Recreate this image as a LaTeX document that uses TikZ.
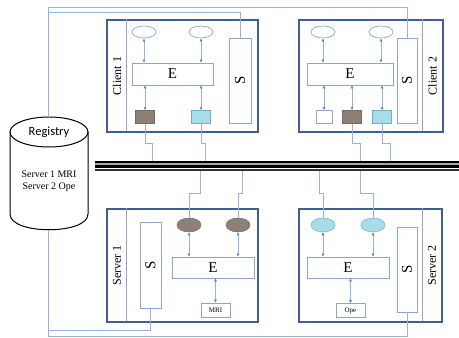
\documentclass[tikz,border=0pt]{standalone}
\usepackage{fontspec}
\setmainfont{Liberation Serif}
\newfontfamily\regfont{Carlito}
\usetikzlibrary{shapes.geometric, arrows.meta}

\definecolor{frameblue}{RGB}{62,95,143}
\definecolor{partblue}{RGB}{141,166,202}
\definecolor{wireblue}{RGB}{150,180,218}
\definecolor{tipblue}{RGB}{79,129,189}
\definecolor{mudfill}{RGB}{142,128,116}
\definecolor{mudline}{RGB}{110,110,110}
\definecolor{icefill}{RGB}{168,220,232}
\definecolor{iceline}{RGB}{110,176,198}

\begin{document}
\begin{tikzpicture}[x=1pt, y=-1pt,
    frame/.style={draw=frameblue, line width=1.3pt, inner sep=0pt},
    divider/.style={draw=partblue, line width=0.7pt},
    part/.style={draw=partblue, line width=0.7pt, fill=white, inner sep=0pt},
    bigtext/.style={font=\fontsize{15}{15}\selectfont},
    tag/.style={rotate=90, font=\fontsize{12}{12}\selectfont},
    port/.style={part, ellipse, minimum width=24pt, minimum height=12pt},
    mudport/.style={ellipse, draw=mudline, fill=mudfill, line width=0.5pt, minimum width=24pt, minimum height=14pt, inner sep=0pt},
    iceport/.style={ellipse, draw=iceline, fill=icefill, line width=0.5pt, minimum width=24pt, minimum height=14pt, inner sep=0pt},
    mudbox/.style={draw=mudline, fill=mudfill, line width=0.5pt, minimum width=19pt, minimum height=13pt, inner sep=0pt},
    icebox/.style={draw=iceline, fill=icefill, line width=0.5pt, minimum width=19pt, minimum height=13pt, inner sep=0pt},
    tinybox/.style={part, font=\fontsize{7}{7}\selectfont, minimum width=29pt, minimum height=14pt},
    wire/.style={draw=wireblue, line width=0.8pt},
    biarrow/.style={draw=wireblue, line width=0.6pt, {Latex[length=3pt,width=3pt,color=tipblue]}-{Latex[length=3pt,width=3pt,color=tipblue]}}]

    \useasboundingbox (0,0) rectangle (459,338);

    \node[frame, minimum width=151pt, minimum height=112pt] (c1box) at (182.5,76) {};
    \draw[divider] (c1box.north west) ++(20,0) -- ++(0,112);
    \node[tag] (c1tag) at (117,76) {Client 1};
    \node[port] (c1a) at (144,32) {};
    \node[port] (c1b) at (201,32) {};
    \node[part, bigtext, minimum width=81pt, minimum height=22pt] (c1e) at (172.5,74) {E};
    \node[part, bigtext, minimum width=22pt, minimum height=85pt] (c1s) at (240,80.5) {\rotatebox{90}{S}};
    \node[mudbox] (c1m) at (145,117) {};
    \node[icebox] (c1c) at (201,117) {};

    \draw[biarrow] (c1a.south) -- (c1a.south |- c1e.north);
    \draw[biarrow] (c1b.south) -- (c1b.south |- c1e.north);
    \draw[biarrow] (c1e.south -| c1m) -- (c1m.north);
    \draw[biarrow] (c1e.south -| c1c) -- (c1c.north);

    \node[frame, minimum width=144pt, minimum height=112pt] (c2box) at (371,76) {};
    \draw[divider] (c2box.north east) ++(-21,0) -- ++(0,112);
    \node[tag] (c2tag) at (432.5,76) {Client 2};
    \node[port] (c2a) at (323,32) {};
    \node[port] (c2b) at (381,32) {};
    \node[part, bigtext, minimum width=86pt, minimum height=22pt] (c2e) at (350,74) {E};
    \node[part, bigtext, minimum width=20pt, minimum height=85pt] (c2s) at (407,80.5) {\rotatebox{90}{S}};
    \node[part, minimum width=16pt, minimum height=13pt] (c2w) at (324,117) {};
    \node[mudbox] (c2m) at (352,117) {};
    \node[icebox] (c2c) at (382,117) {};

    \draw[biarrow] (c2a.south) -- (c2a.south |- c2e.north);
    \draw[biarrow] (c2b.south) -- (c2b.south |- c2e.north);
    \draw[biarrow] (c2e.south -| c2w) -- (c2w.north);
    \draw[biarrow] (c2e.south -| c2m) -- (c2m.north);
    \draw[biarrow] (c2e.south -| c2c) -- (c2c.north);

    \node[frame, minimum width=151pt, minimum height=113pt] (s1box) at (182.5,265.5) {};
    \draw[divider] (s1box.north west) ++(20,0) -- ++(0,113);
    \node[tag] (s1tag) at (117,265.5) {Server 1};
    \node[part, bigtext, minimum width=21pt, minimum height=86pt] (s1s) at (150.5,265) {\rotatebox{90}{S}};
    \node[mudport] (s1a) at (189,225) {};
    \node[mudport] (s1b) at (238,225) {};
    \node[part, bigtext, minimum width=82pt, minimum height=21pt] (s1e) at (213,267.5) {E};
    \node[tinybox] (s1k) at (215.5,310) {MRI};

    \draw[biarrow] (s1a.south) -- (s1a.south |- s1e.north);
    \draw[biarrow] (s1b.south) -- (s1b.south |- s1e.north);
    \draw[biarrow] (s1e.south -| s1k) -- (s1k.north);

    \node[frame, minimum width=143pt, minimum height=113pt] (s2box) at (370.5,265.5) {};
    \draw[divider] (s2box.north east) ++(-20,0) -- ++(0,113);
    \node[tag] (s2tag) at (432,265.5) {Server 2};
    \node[part, bigtext, minimum width=20pt, minimum height=85pt] (s2s) at (407,269.5) {\rotatebox{90}{S}};
    \node[iceport] (s2a) at (323,225) {};
    \node[iceport] (s2b) at (373,225) {};
    \node[part, bigtext, minimum width=82pt, minimum height=21pt] (s2e) at (348,267.5) {E};
    \node[tinybox] (s2k) at (350.5,310.5) {Ope};

    \draw[biarrow] (s2a.south) -- (s2a.south |- s2e.north);
    \draw[biarrow] (s2b.south) -- (s2b.south |- s2e.north);
    \draw[biarrow] (s2e.south -| s2k) -- (s2k.north);

    \draw[line width=1pt] (49,132) ellipse [x radius=39, y radius=15];
    \draw[line width=1pt] (10,132) -- (10,214) .. controls (10,235) and (88,235) .. (88,214) -- (88,132);
    \coordinate (regtop) at (48,117);
    \coordinate (regbot) at (48,230);
    \node[font=\regfont\fontsize{12.5}{12.5}\selectfont] (reg) at (49,132) {Registry};
    \node[align=center, font=\fontsize{10}{12}\selectfont] (regtxt) at (49,181) {Server 1 MRI\\Server 2 Ope};

    \coordinate (bustop) at (95,161);
    \coordinate (busbot) at (95,171);

    \draw[wire] (regtop) -- ++(0,-110) -| (c2s.north);
    \draw[wire] (regtop) -- ++(0,-105) -| (c1s.north);
    \draw[wire] (regbot) -- ++(0,106) -| (s2s.south);
    \draw[wire] (regbot) -- ++(0,100) -| (s1s.south);

    \draw[wire] (c1m.south) -- ++(0,20) -- ++(7,0) coordinate (w1) -- (w1 |- bustop);
    \draw[wire] (c1c.south) -- ++(0,20) -- ++(4,0) coordinate (w2) -- (w2 |- bustop);
    \draw[wire] (c2m.south) -- ++(0,20) -- ++(8,0) coordinate (w3) -- (w3 |- bustop);
    \draw[wire] (c2c.south) -- ++(0,20) -- ++(8,0) coordinate (w4) -- (w4 |- bustop);
    \draw[wire] (s1a.north) -- ++(0,-24) -- ++(11,0) coordinate (w5) -- (w5 |- busbot);
    \draw[wire] (s1b.north) -- ++(0,-24) -- ++(4,0) coordinate (w6) -- (w6 |- busbot);
    \draw[wire] (s2a.north) -- ++(0,-24) -- ++(-4,0) coordinate (w7) -- (w7 |- busbot);
    \draw[wire] (s2b.north) -- ++(0,-24) -- ++(-13,0) coordinate (w8) -- (w8 |- busbot);

    \fill[black] (95,161) rectangle (459,167.5);
    \fill[black!35] (95,163) rectangle (459,165.3);
    \fill[black!80] (95,169) rectangle (459,171);
\end{tikzpicture}
\end{document}
